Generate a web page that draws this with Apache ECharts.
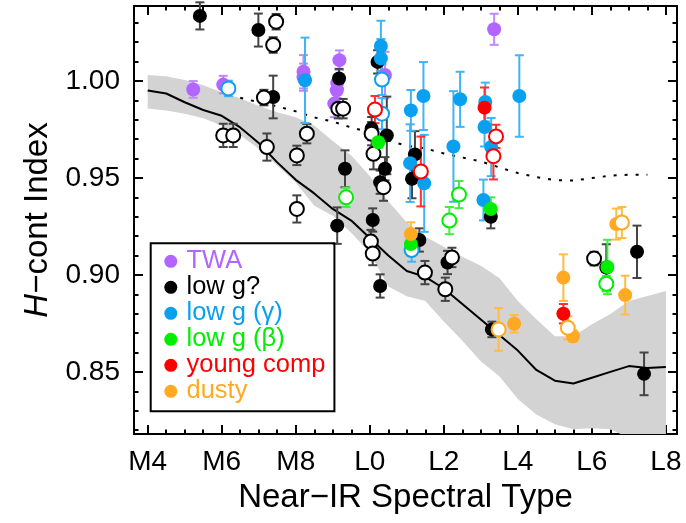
<!DOCTYPE html>
<html><head><meta charset="utf-8">
<script src="https://cdn.jsdelivr.net/npm/echarts@6/dist/echarts.min.js"></script>
<style>html,body{margin:0;padding:0;background:#fff}#c{width:686px;height:523px}</style>
</head><body><div id="c"></div>
<script>
// ---- axis ticks ----
const xTickVals = [4, 6, 8, 10, 12, 14, 16, 18];
const xTickLabels = ['M4', 'M6', 'M8', 'L0', 'L2', 'L4', 'L6', 'L8'];
const xMinorVals = [4,4.5,5,5.5,6,6.5,7,7.5,8,8.5,9,9.5,10,10.5,11,11.5,12,12.5,13,13.5,14,14.5,15,15.5,16,16.5,17,17.5,18];
const yTickVals = [0.85, 0.90, 0.95, 1.00];
const yTickLabels = ['0.85', '0.90', '0.95', '1.00'];
const yMinorVals = [0.82,0.83,0.84,0.85,0.86,0.87,0.88,0.89,0.90,0.91,0.92,0.93,0.94,0.95,0.96,0.97,0.98,0.99,1.00,1.01,1.02,1.03];

// ---- field sequence (solid line) and scatter band ----
const seqX = [4,4.5,5,5.5,6,6.5,7,7.5,8,8.5,9,9.5,10,10.5,11,11.5,12,12.5,13,13.5,14,14.5,15,15.5,16,16.5,17,17.5,18];
const seqY = [0.995,0.9935,0.989,0.985,0.982,0.976,0.968,0.958,0.949,0.942,0.934,0.928,0.919,0.910,0.902,0.899,0.893,0.885,0.877,0.869,0.861,0.851,0.8455,0.844,0.847,0.850,0.853,0.852,0.8525];
const bandUpper = [1.003,1.0024,1.0004,0.9978,0.9942,0.991,0.987,0.9838,0.9812,0.977,0.969,0.9616,0.951,0.938,0.927,0.9197,0.9145,0.9093,0.9047,0.8984,0.8865,0.8772,0.8684,0.8684,0.8746,0.8798,0.8865,0.8891,0.8917];
const bandLower = [0.9858,0.9848,0.983,0.9807,0.977,0.972,0.965,0.9564,0.9476,0.9357,0.9305,0.9217,0.9114,0.894,0.889,0.8865,0.876,0.866,0.8555,0.8478,0.836,0.828,0.823,0.8204,0.821,0.8204,0.816,0.814,0.8115];

// ---- dotted line ----
const dotX = [6.5,7,7.5,8,8.5,9,9.5,10,10.5,11,11.5,12,12.5,13,13.5,14,14.5,15,15.5,16,16.5,17,17.5];
const dotY = [0.9913,0.989,0.9869,0.9843,0.9812,0.979,0.976,0.9735,0.9693,0.9665,0.9652,0.9626,0.9605,0.9585,0.9554,0.9525,0.9504,0.9489,0.9486,0.9499,0.9512,0.9516,0.9516];

// ---- objects: [spectral type, H-cont index, error, open(1)/filled(0)] ----
const twa = [
  [5.23,0.9956,0.0043,0],[6.04,0.9981,0.0045,0],[8.21,1.0047,0.0086,0],[8.21,1.0019,0.007,0],
  [9.18,1.0107,0.005,0],[9.12,0.999,0.004,0],[9.11,0.9952,0.004,0],[9.04,0.9883,0.007,0],
  [10.41,1.003,0.012,0],[13.36,1.0266,0.008,0]
];
const lowg = [
  [5.41,1.0335,0.007,0],[6.99,1.0262,0.0085,0],[7.39,0.9917,0.011,0],[9.17,1.0012,0.005,0],
  [9.33,0.9547,0.0095,0],[9.12,0.9254,0.0094,0],[10.08,0.9283,0.006,0],[10.28,0.8943,0.006,0],
  [10.21,1.0098,0.006,0],[10.05,0.9754,0.006,0],[10.46,0.9719,0.02,0],[10.41,0.9547,0.006,0],
  [10.28,0.9478,0.006,0],[11.22,0.9621,0.012,0],[11.14,0.9495,0.01,0],[11.34,0.918,0.006,0],
  [12.1,0.9064,0.006,0],[13.27,0.930,0.006,0],[13.3,0.8719,0.004,0],[16.39,0.9038,0.012,0],
  [17.22,0.9119,0.0135,0],[17.41,0.849,0.011,0],
  [7.14,0.9914,0.004,1],[7.47,1.0305,0.004,1],[7.39,1.0185,0.004,1],[6.04,0.9719,0.006,1],
  [6.31,0.9719,0.006,1],[7.22,0.9659,0.007,1],[8.03,0.9616,0.005,1],[8.03,0.934,0.007,1],
  [8.3,0.9728,0.005,1],[9.15,0.9857,0.005,1],[9.28,0.9857,0.005,1],[10.05,0.9728,0.006,1],
  [10.1,0.9624,0.008,1],[10.37,0.9452,0.007,1],[10.03,0.9172,0.006,1],[10.08,0.911,0.006,1],
  [11.49,0.9012,0.006,1],[12.22,0.909,0.005,1],[12.04,0.8926,0.006,1],[16.06,0.9084,0.0035,1]
];
const gamma = [
  [8.25,1.0003,0.022,0],[10.3,1.018,0.013,0],[10.3,1.0116,0.01,0],[11.11,0.9848,0.0105,0],
  [11.45,0.9922,0.0175,0],[12.26,0.9662,0.0285,0],[12.44,0.9905,0.0142,0],[13.12,0.9891,0.01,0],
  [13.1,0.9762,0.01,0],[13.28,0.9659,0.015,0],[14.04,0.9922,0.021,0],[11.09,0.9576,0.02,0],
  [11.47,0.9472,0.025,0],[13.07,0.9386,0.0105,0],
  [6.18,0.9961,0.004,1],[10.33,1.0007,0.008,1],[10.33,0.9831,0.008,1],[11.13,0.9128,0.006,1]
];
const beta = [
  [10.23,0.9684,0.003,0],[13.27,0.934,0.006,0],[11.11,0.9159,0.006,0],[16.42,0.9041,0.014,0],
  [9.36,0.940,0.005,1],[12.41,0.9414,0.007,1],[12.15,0.928,0.007,1],[16.39,0.8955,0.004,1]
];
const young = [
  [13.1,0.9862,0.0104,0],[15.23,0.880,0.005,0],
  [10.14,0.9852,0.007,1],[11.38,0.9533,0.018,1],[13.41,0.9714,0.006,1],[13.34,0.9612,0.012,1]
];
const dusty = [
  [11.11,0.9211,0.006,0],[13.9,0.8748,0.0045,0],[15.23,0.8986,0.012,0],[15.49,0.8684,0.003,0],
  [16.66,0.9262,0.008,0],[16.9,0.8896,0.01,0],
  [13.48,0.8719,0.011,1],[15.35,0.8727,0.006,1],[16.81,0.927,0.008,1]
];

const catNames = ['TWA', 'low g?', 'low g (γ)', 'low g (β)', 'young comp', 'dusty'];
const catData = [twa, lowg, gamma, beta, young, dusty];
const catColors = ['#b266ff', '#000000', '#0aa0f0', '#00ee00', '#ff0000', '#ffaa22'];
const errColors = ['#c088ff', '#444444', '#40b4f5', '#40f040', '#ff3030', '#ffbb44'];

const XMIN = 3.63, XMAX = 18.3, YMIN = 0.818, YMAX = 1.0386;
const FONT = 'Liberation Sans, Arial, Helvetica, sans-serif';

function near(a, b) { return Math.abs(a - b) < 1e-6; }

function axisBase(pos, vals, len, labels, labelVals) {
  return {
    type: 'value', min: pos === 'bottom' || pos === 'top' ? XMIN : YMIN,
    max: pos === 'bottom' || pos === 'top' ? XMAX : YMAX,
    position: pos,
    axisLine: { show: false },
    splitLine: { show: false },
    axisTick: { show: true, inside: true, length: len, customValues: vals, lineStyle: { color: '#000', width: 2 } },
    axisLabel: labels ? {
      show: true, customValues: labelVals, color: '#000', fontSize: 28, fontFamily: FONT, margin: 14,
      formatter: function (v) { for (let i = 0; i < labelVals.length; i++) if (near(labelVals[i], v)) return labels[i]; return ''; }
    } : { show: false }
  };
}

const xAxes = [
  Object.assign(axisBase('bottom', xTickVals, 9, xTickLabels, xTickVals), {
    name: 'Near\u2212IR Spectral Type', nameLocation: 'middle', nameGap: 47,
    nameTextStyle: { fontSize: 33, fontFamily: FONT, color: '#000' }
  }),
  axisBase('bottom', xMinorVals, 4.5, null),
  axisBase('top', xTickVals, 9, null),
  axisBase('top', xMinorVals, 4.5, null)
];
const yAxes = [
  Object.assign(axisBase('left', yTickVals, 9, yTickLabels, yTickVals), {
    name: '{i|H}\u2212cont Index', nameLocation: 'middle', nameGap: 77,
    nameTextStyle: { fontSize: 33, fontFamily: FONT, color: '#000', rich: { i: { fontSize: 33, fontFamily: FONT, fontStyle: 'italic', color: '#000' } } }
  }),
  axisBase('left', yMinorVals, 4.5, null),
  axisBase('right', yTickVals, 9, null),
  axisBase('right', yMinorVals, 4.5, null)
];

const series = [];
// gray band
series.push({
  type: 'custom', name: 'band', clip: true, silent: true, z: 1,
  data: [[seqX[0], seqY[0]]], encode: { x: 0, y: 1 },
  renderItem: function (params, api) {
    const pts = [];
    for (let i = 0; i < seqX.length; i++) pts.push(api.coord([seqX[i], bandUpper[i]]));
    for (let i = seqX.length - 1; i >= 0; i--) pts.push(api.coord([seqX[i], bandLower[i]]));
    return { type: 'polygon', shape: { points: pts }, style: { fill: '#d3d3d3', stroke: null } };
  }
});
series.push({
  type: 'line', name: 'seq', data: seqX.map((x, i) => [x, seqY[i]]), showSymbol: false, symbol: 'none',
  lineStyle: { color: '#000', width: 2 }, z: 2, silent: true, animation: false
});
series.push({
  type: 'line', name: 'dot', data: dotX.map((x, i) => [x, dotY[i]]), showSymbol: false, symbol: 'none',
  lineStyle: { color: '#000', width: 2, type: [3, 8] }, z: 2, silent: true, animation: false
});

catData.forEach(function (arr, ci) {
  const ecol = errColors[ci];
  series.push({
    type: 'custom', name: catNames[ci] + ' err', z: 3, silent: true,
    data: arr.map(d => [d[0], d[1], d[2]]), encode: { x: 0, y: 1 },
    renderItem: function (params, api) {
      const x = api.value(0), y = api.value(1), e = api.value(2);
      const t = api.coord([x, y + e]), b = api.coord([x, y - e]);
      const cw = 4.5;
      const st = { stroke: ecol, lineWidth: 2 };
      return { type: 'group', children: [
        { type: 'line', shape: { x1: t[0], y1: t[1], x2: b[0], y2: b[1] }, style: st },
        { type: 'line', shape: { x1: t[0] - cw, y1: t[1], x2: t[0] + cw, y2: t[1] }, style: st },
        { type: 'line', shape: { x1: b[0] - cw, y1: b[1], x2: b[0] + cw, y2: b[1] }, style: st }
      ] };
    }
  });
  series.push({
    type: 'scatter', name: catNames[ci], z: 4, symbol: 'circle', symbolSize: 14,
    itemStyle: { color: catColors[ci], opacity: 1 },
    data: arr.map(d => d[3] ? { value: [d[0], d[1]], itemStyle: { color: '#ffffff', borderColor: catColors[ci], borderWidth: 2 } } : { value: [d[0], d[1]] })
  });
});

const chart = echarts.init(document.getElementById('c'), null, { renderer: 'canvas' });
chart.setOption({
  animation: false,
  backgroundColor: '#ffffff',
  grid: { left: 134, right: 9, top: 6, bottom: 89, containLabel: false, show: true, borderColor: '#000', borderWidth: 2, backgroundColor: 'transparent' },
  xAxis: xAxes,
  yAxis: yAxes,
  legend: {
    show: true, orient: 'vertical', left: 150.7, top: 243.3, padding: [5, 9, 7, 13.6],
    itemWidth: 21.4, itemHeight: 13, itemGap: 0, borderColor: '#000', borderWidth: 2, icon: 'circle',
    selectedMode: false,
    data: catNames.map((n, i) => ({ name: n, textStyle: { color: catColors[i] } })),
    textStyle: { fontSize: 25.5, fontFamily: FONT, lineHeight: 25.5 }
  },
  series: series
});
</script></body></html>
